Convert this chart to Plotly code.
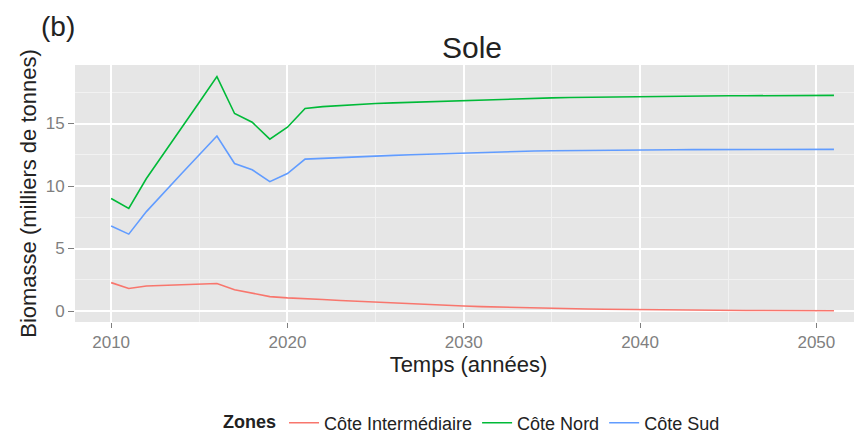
import plotly.graph_objects as go

# Sole biomass projections per zone (thousands of tonnes)
years = list(range(2010, 2052))

cote_intermediaire = [
    2.27, 1.8, 2.0, 2.05, 2.07, 2.1, 2.2, 1.7, 1.4, 1.15, 1.05,
    1.0, 0.92, 0.84, 0.77, 0.7, 0.63, 0.57, 0.51, 0.45, 0.4,
    0.35, 0.31, 0.27, 0.24, 0.21, 0.18, 0.16, 0.14, 0.12, 0.1,
    0.09, 0.08, 0.07, 0.06, 0.05, 0.04, 0.04, 0.03, 0.03, 0.02, 0.02,
]
cote_nord = [
    9.0, 8.2, 10.6, 12.6, 14.6, 16.7, 18.75, 15.8, 15.1, 13.75, 14.7,
    16.2, 16.35, 16.45, 16.5, 16.6, 16.65, 16.7, 16.75, 16.8, 16.85,
    16.9, 16.95, 17.0, 17.02, 17.05, 17.08, 17.1, 17.13, 17.15, 17.17,
    17.18, 17.19, 17.2, 17.21, 17.22, 17.22, 17.23, 17.23, 17.24, 17.24, 17.25,
]
cote_sud = [
    6.8, 6.15, 7.95, 9.5, 11.0, 12.5, 14.0, 11.8, 11.3, 10.35, 11.0,
    12.15, 12.22, 12.28, 12.34, 12.4, 12.45, 12.5, 12.55, 12.6, 12.65,
    12.7, 12.74, 12.77, 12.8, 12.82, 12.84, 12.86, 12.87, 12.88, 12.89,
    12.9, 12.9, 12.91, 12.91, 12.92, 12.92, 12.92, 12.93, 12.93, 12.93, 12.93,
]

zones = ["Côte Intermédiaire", "Côte Nord", "Côte Sud"]
series = [cote_intermediaire, cote_nord, cote_sud]
colors = ["#F8766D", "#00BA38", "#619CFF"]

FONT = "Liberation Sans, Arial, sans-serif"
W, H = 854, 426
# the page body adds an 8px offset, so positions below are shifted by -8

fig = go.Figure()
for name, vals, col in zip(zones, series, colors):
    fig.add_trace(go.Scatter(
        x=years, y=vals, mode="lines", name=name,
        line=dict(color=col, width=1.6),
    ))

fig.update_layout(
    width=W, height=H,
    margin=dict(l=67, r=0, t=57, b=112, autoexpand=False),
    paper_bgcolor="white",
    plot_bgcolor="#E6E6E6",
    font=dict(family=FONT, color="#222"),
    title=dict(text="Sole", x=464 / W, xref="container", xanchor="center",
               y=1 - 39 / H, yanchor="middle",
               font=dict(size=30, color="#222")),
    legend=dict(
        orientation="h", x=465 / W, xanchor="center", xref="container",
        y=1 - 415 / H, yanchor="middle", yref="container",
        title=dict(text="<b>Zones</b>", side="left", font=dict(size=18)),
        font=dict(size=18, color="#222"),
        itemwidth=30, tracegroupgap=0,
    ),
    showlegend=True,
)

fig.update_xaxes(
    range=[2007.95, 2052.59], automargin=False,
    tickvals=[2010, 2020, 2030, 2040, 2050],
    showgrid=True, gridcolor="white", gridwidth=1.6,
    minor=dict(dtick=5, tick0=2005, showgrid=True, gridcolor="#F2F2F2", gridwidth=0.8),
    zeroline=False, showline=False,
    ticks="outside", ticklen=5, tickcolor="#7F7F7F", tickwidth=1,
    tickfont=dict(size=17, color="#7F7F7F"),
    title=dict(text="Temps (années)", font=dict(size=22, color="#222"), standoff=4),
)
fig.update_yaxes(
    range=[-0.88, 19.68], automargin=False,
    tickvals=[0, 5, 10, 15],
    showgrid=True, gridcolor="white", gridwidth=1.6,
    minor=dict(dtick=2.5, tick0=0, showgrid=True, gridcolor="#F2F2F2", gridwidth=0.8),
    zeroline=False, showline=False,
    ticks="outside", ticklen=6, tickcolor="#7F7F7F", tickwidth=1,
    tickfont=dict(size=17, color="#7F7F7F"),
    title=dict(text="Biomasse (milliers de tonnes)", font=dict(size=22, color="#222"), standoff=2),
)

fig.add_annotation(
    text="(b)", xref="paper", yref="paper",
    x=(31 - 67) / 787, y=(314 - 18) / 257, xanchor="left", yanchor="middle",
    showarrow=False, font=dict(size=28, color="#222"),
)

fig.write_html("out.html")
